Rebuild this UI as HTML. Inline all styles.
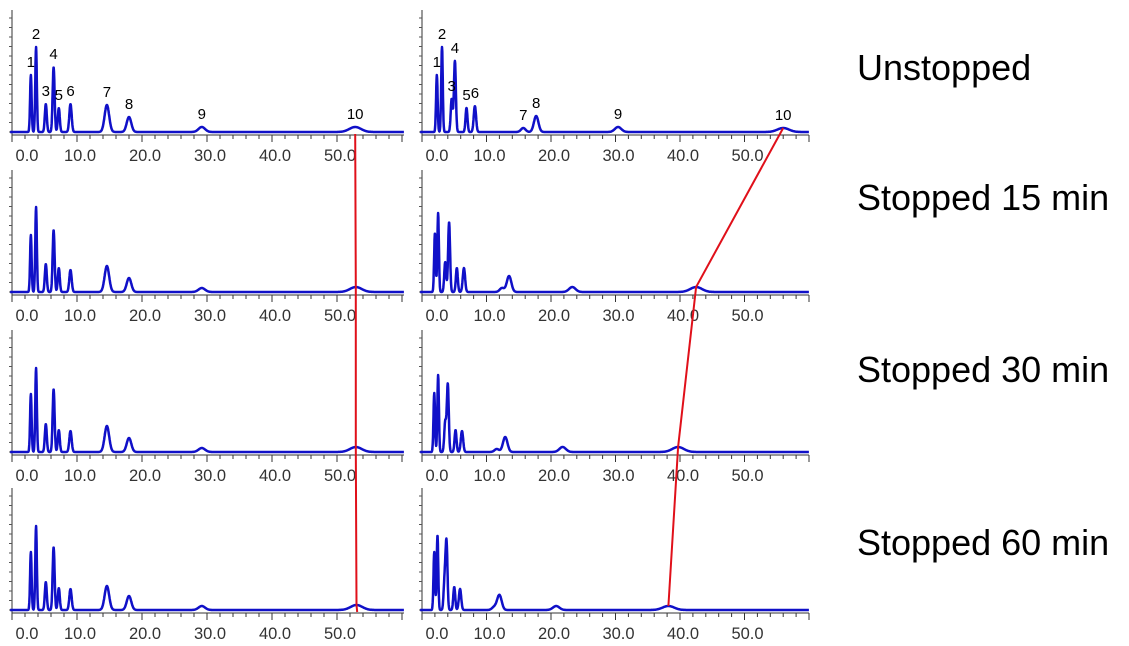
<!DOCTYPE html>
<html><head><meta charset="utf-8">
<style>
html,body{margin:0;padding:0;background:#fff;width:1129px;height:646px;overflow:hidden}
svg{display:block}
.cond{font-family:"Liberation Sans","Noto Sans CJK KR",sans-serif;font-size:36px;fill:#000}
</style></head>
<body>
<svg id="chart" width="1129" height="646" viewBox="0 0 1129 646" xmlns="http://www.w3.org/2000/svg">
<text class="cond" x="857" y="80">Unstopped</text>
<text class="cond" x="857" y="210">Stopped 15 min</text>
<text class="cond" x="857" y="382">Stopped 30 min</text>
<text class="cond" x="857" y="555">Stopped 60 min</text>
</svg>
<script>
// peak retention times (min) and heights (px units) per panel
const leftTimes = [
 [2.9,3.7,5.2,6.4,7.2,9.0,14.6,18.0,29.2,52.8],
 [2.9,3.7,5.2,6.4,7.2,9.0,14.6,18.0,29.2,52.9],
 [2.9,3.7,5.2,6.4,7.2,9.0,14.6,18.0,29.2,52.9],
 [2.9,3.7,5.2,6.4,7.2,9.0,14.6,18.0,29.2,53.0]
];
const leftHeights = [
 [57,85,28,65,24,28,27,15,5,5],
 [57,85,28,62,24,22,26,14,4,5],
 [58,84,28,63,22,21,26,14,4,5],
 [58,84,28,63,22,21,24,14,4,5]
];
const rightTimes = [
 [2.3,3.1,4.6,5.1,6.9,8.2,15.7,17.7,30.4,56.0],
 [2.0,2.5,3.6,4.2,5.4,6.5,12.4,13.5,23.3,42.5],
 [1.9,2.5,3.6,4.0,5.2,6.2,11.6,12.9,21.8,39.7],
 [1.9,2.4,3.5,3.8,5.0,5.9,11.2,12.0,20.8,38.2]
];
const rightHeights = [
 [57,85,33,71,24,26,4,16,5,4],
 [59,79,30,70,24,24,4,16,5,5],
 [59,77,30,68,22,21,3,15,5,5],
 [58,75,29,67,23,21,3,15,4,4]
];
const peakWidths = [0.12,0.12,0.15,0.15,0.15,0.18,0.35,0.35,0.5,0.9];
const tickLabels = ["0.0","10.0","20.0","30.0","40.0","50.0"];
const tickValues = [0,10,20,30,40,50];
const peakNames = ["1","2","3","4","5","6","7","8","9","10"];
const baselines = [132,292,452,610];

const svg = document.getElementById('chart');
const NS = 'http://www.w3.org/2000/svg';
function mk(tag, attrs){const e=document.createElementNS(NS,tag);for(const k in attrs)e.setAttribute(k,attrs[k]);return e;}
const panels = [{x0:12,sc:6.5,times:leftTimes,hts:leftHeights,side:'left'},
                {x0:422,sc:6.45,times:rightTimes,hts:rightHeights,side:'right'}];

panels.forEach(p=>{
  const xs = t => p.x0 + p.sc*t;
  const xEnd = p.side==='left'?404:809;
  const tEnd = (xEnd-p.x0)/p.sc;
  baselines.forEach((b,r)=>{
    const g = mk('g',{});
    
    
    svg.appendChild(g);
    const ya = mk('line',{x1:xs(0),y1:b-122,x2:xs(0),y2:b+3,stroke:'#333','stroke-width':1});
    
    
    g.appendChild(ya);
    for(let k=0;k<13;k++){
      const yy=b-k*9.5;
      g.appendChild(mk('line',{x1:xs(0)-3,y1:yy,x2:xs(0),y2:yy,stroke:'#555','stroke-width':1}));
    }
    const ax = mk('line',{x1:xs(0),y1:b+3,x2:xEnd,y2:b+3,stroke:'#333','stroke-width':1});
    
    
    g.appendChild(ax);
    for(let t=0;t<=tEnd+0.01;t+=2){
      const major = Math.abs(t%10)<0.01;
      g.appendChild(mk('line',{x1:xs(t),y1:b+3,x2:xs(t),y2:b+(major?10:7),stroke:'#333','stroke-width':1}));
    }
    tickValues.forEach((v,i)=>{
      const tx = mk('text',{x:xs(v)+(v===0?15:3),y:b+29,'text-anchor':'middle','font-family':'Liberation Sans, sans-serif','font-size':'16.5',fill:'#333'});
      tx.textContent = tickLabels[i];
      
      
      g.appendChild(tx);
    });
    const T=p.times[r], H=p.hts[r];
    let pts=[];
    for(let t=-0.3;t<=tEnd;t+=0.04){
      let y=0;
      for(let i=0;i<T.length;i++){const d=(t-T[i])/peakWidths[i];y+=H[i]*Math.exp(-0.5*d*d);}
      pts.push(xs(t).toFixed(1)+','+(b-y).toFixed(1));
    }
    const pl = mk('polyline',{points:pts.join(' '),fill:'none',stroke:'#1010c8','stroke-width':2.5,'stroke-linejoin':'round'});
    
    
    g.appendChild(pl);
    if(r===0){
      T.forEach((t,i)=>{
        let lx=xs(t), ly=b-H[i]-8;
        const lb = mk('text',{x:lx,y:ly,'text-anchor':'middle','font-family':'Liberation Sans, sans-serif','font-size':'15',fill:'#000'});
        lb.textContent = peakNames[i];
        
        
        g.appendChild(lb);
      });
    }
  });
  const lp = baselines.map((b,r)=>xs(p.times[r][9]).toFixed(1)+','+(b-p.hts[r][9]).toFixed(1));
  if(p.side==='left'){ lp.push(xs(p.times[3][9]+0.1).toFixed(1)+','+(baselines[3]+2)); lp[0]=xs(p.times[0][9]).toFixed(1)+','+(baselines[0]+2); }
  const red = mk('polyline',{points:lp.join(' '),fill:'none',stroke:'#e0101a','stroke-width':2});
  
  
  svg.appendChild(red);
});
</script>
</body></html>
